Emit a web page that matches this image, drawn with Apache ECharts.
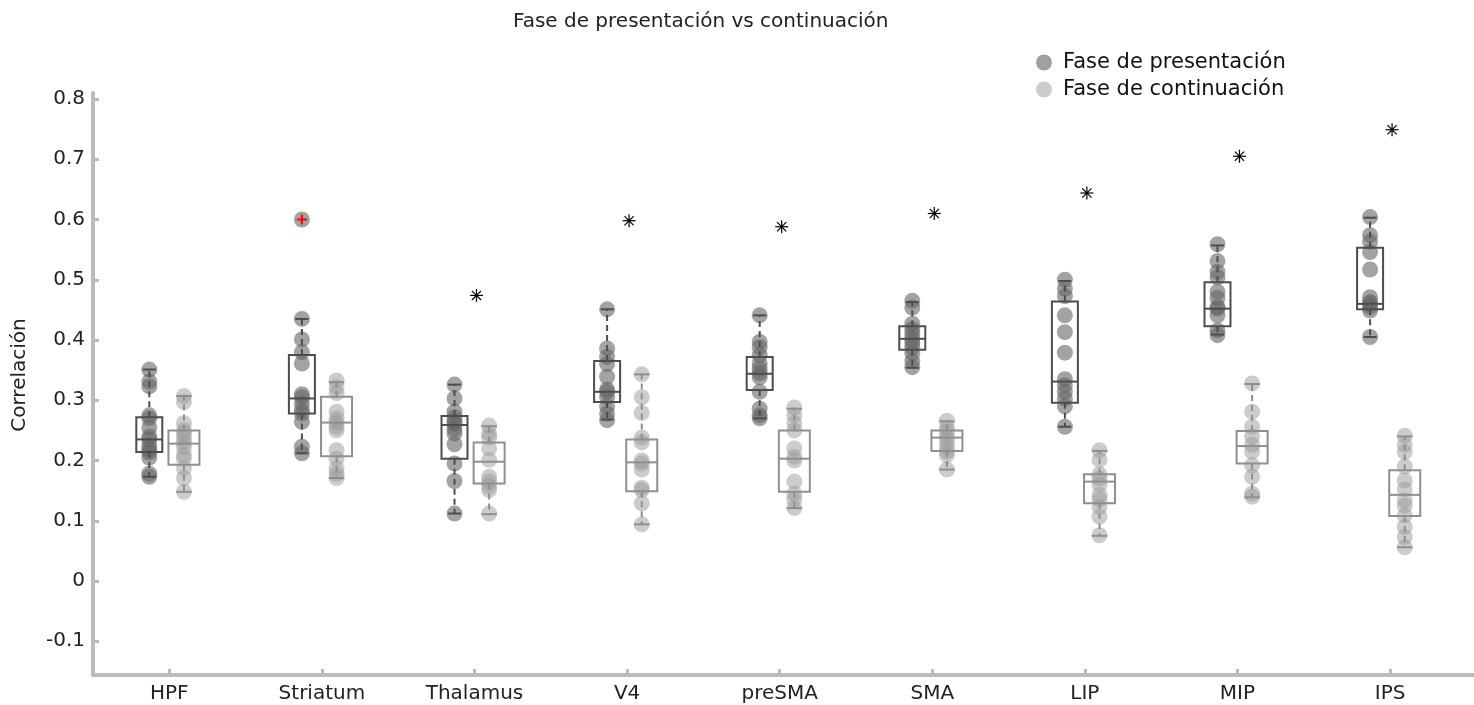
<!DOCTYPE html>
<html><head><meta charset="utf-8">
<script src="https://cdn.jsdelivr.net/npm/echarts@6/dist/echarts.min.js"></script>
<style>html,body{margin:0;padding:0;background:#fff}#c{width:1474px;height:705px}</style>
</head><body><div id="c"></div>
<script>
const categories = ['HPF','Striatum','Thalamus','V4','preSMA','SMA','LIP','MIP','IPS'];
const seriesNames = ['Fase de presentación','Fase de continuación'];
// box stats per category: [min, q1, median, q3, max]
const presBox = [
  [0.173, 0.214, 0.235, 0.272, 0.351],
  [0.212, 0.278, 0.303, 0.375, 0.435],
  [0.112, 0.203, 0.259, 0.274, 0.326],
  [0.268, 0.297, 0.314, 0.365, 0.451],
  [0.270, 0.317, 0.344, 0.372, 0.441],
  [0.354, 0.384, 0.402, 0.423, 0.463],
  [0.256, 0.296, 0.331, 0.464, 0.498],
  [0.409, 0.423, 0.452, 0.496, 0.557],
  [0.405, 0.451, 0.460, 0.553, 0.603]
];
const contBox = [
  [0.148, 0.193, 0.228, 0.250, 0.307],
  [0.171, 0.207, 0.263, 0.306, 0.330],
  [0.111, 0.162, 0.198, 0.230, 0.257],
  [0.094, 0.149, 0.197, 0.235, 0.343],
  [0.121, 0.148, 0.203, 0.250, 0.286],
  [0.185, 0.216, 0.238, 0.250, 0.265],
  [0.075, 0.129, 0.165, 0.177, 0.216],
  [0.139, 0.195, 0.224, 0.249, 0.327],
  [0.056, 0.108, 0.143, 0.184, 0.240]
];
const presPoints = [
  [0.351, 0.331, 0.323, 0.275, 0.270, 0.255, 0.240, 0.235, 0.225, 0.218, 0.213, 0.205, 0.178, 0.173],
  [0.600, 0.435, 0.401, 0.380, 0.361, 0.310, 0.305, 0.295, 0.284, 0.278, 0.264, 0.223, 0.212],
  [0.326, 0.303, 0.281, 0.272, 0.265, 0.261, 0.252, 0.245, 0.227, 0.195, 0.166, 0.112],
  [0.451, 0.386, 0.372, 0.360, 0.339, 0.318, 0.314, 0.305, 0.290, 0.278, 0.267],
  [0.441, 0.397, 0.388, 0.375, 0.361, 0.352, 0.345, 0.338, 0.314, 0.286, 0.275, 0.270],
  [0.465, 0.454, 0.427, 0.418, 0.410, 0.402, 0.395, 0.388, 0.378, 0.365, 0.355],
  [0.500, 0.485, 0.473, 0.441, 0.413, 0.379, 0.335, 0.325, 0.314, 0.303, 0.290, 0.256],
  [0.559, 0.531, 0.513, 0.504, 0.480, 0.470, 0.455, 0.452, 0.441, 0.416, 0.408],
  [0.604, 0.574, 0.563, 0.546, 0.517, 0.471, 0.463, 0.460, 0.455, 0.449, 0.405]
];
const contPoints = [
  [0.307, 0.297, 0.262, 0.250, 0.245, 0.237, 0.230, 0.222, 0.210, 0.203, 0.187, 0.171, 0.148],
  [0.333, 0.322, 0.312, 0.281, 0.270, 0.263, 0.256, 0.250, 0.217, 0.203, 0.187, 0.178, 0.171],
  [0.258, 0.245, 0.238, 0.220, 0.201, 0.173, 0.165, 0.158, 0.151, 0.112],
  [0.343, 0.305, 0.279, 0.238, 0.230, 0.200, 0.195, 0.185, 0.155, 0.151, 0.129, 0.094],
  [0.288, 0.275, 0.262, 0.250, 0.220, 0.206, 0.200, 0.165, 0.145, 0.135, 0.121],
  [0.266, 0.255, 0.248, 0.239, 0.232, 0.223, 0.215, 0.209, 0.185],
  [0.217, 0.201, 0.177, 0.170, 0.160, 0.143, 0.135, 0.123, 0.107, 0.076],
  [0.328, 0.281, 0.256, 0.240, 0.226, 0.215, 0.192, 0.173, 0.145, 0.140],
  [0.241, 0.226, 0.214, 0.190, 0.167, 0.152, 0.134, 0.125, 0.109, 0.090, 0.073, 0.056]
];
// outlier marks (category index, value)
const outliers = [[1, 0.600]];
// significance stars per category
const stars = [null, null, 0.474, 0.598, 0.588, 0.610, 0.644, 0.705, 0.749];
const yTicks = [-0.1, 0, 0.1, 0.2, 0.3, 0.4, 0.5, 0.6, 0.7, 0.8];
const xTicks = [1, 2, 3, 4, 5, 6, 7, 8, 9];

const PRES_OFF = -0.131, CONT_OFF = 0.096, STAR_OFF = 0.013;
const FONT = 'DejaVu Sans';

function boxRender(width, color) {
  return function (params, api) {
    const x = api.value(0);
    const pMin = api.coord([x, api.value(1)]);
    const pQ1 = api.coord([x, api.value(2)]);
    const pMed = api.coord([x, api.value(3)]);
    const pQ3 = api.coord([x, api.value(4)]);
    const pMax = api.coord([x, api.value(5)]);
    const cx = pMin[0], hw = width / 2, cw = width / 4;
    const ls = { stroke: color, lineWidth: 2, fill: null };
    const dash = { stroke: color, lineWidth: 2, lineDash: [6, 4], fill: null };
    return { type: 'group', children: [
      { type: 'line', shape: { x1: cx, y1: pQ3[1], x2: cx, y2: pMax[1] }, style: dash },
      { type: 'line', shape: { x1: cx, y1: pQ1[1], x2: cx, y2: pMin[1] }, style: dash },
      { type: 'line', shape: { x1: cx - cw, y1: pMax[1], x2: cx + cw, y2: pMax[1] }, style: ls },
      { type: 'line', shape: { x1: cx - cw, y1: pMin[1], x2: cx + cw, y2: pMin[1] }, style: ls },
      { type: 'rect', shape: { x: cx - hw, y: pQ3[1], width: width, height: pQ1[1] - pQ3[1] }, style: { stroke: color, lineWidth: 2, fill: 'none' } },
      { type: 'line', shape: { x1: cx - hw, y1: pMed[1], x2: cx + hw, y2: pMed[1] }, style: ls }
    ]};
  };
}

function starRender(params, api) {
  const p = api.coord([api.value(0), api.value(1)]);
  const r = 6.5, children = [];
  for (let k = 0; k < 4; k++) {
    const a = k * Math.PI / 4;
    children.push({ type: 'line', shape: { x1: p[0] - r * Math.cos(a), y1: p[1] - r * Math.sin(a), x2: p[0] + r * Math.cos(a), y2: p[1] + r * Math.sin(a) }, style: { stroke: '#000', lineWidth: 1.2 } });
  }
  children.push({ type: 'circle', shape: { cx: p[0], cy: p[1], r: 1.6 }, style: { fill: '#000' } });
  return { type: 'group', children: children };
}

function plusRender(params, api) {
  const p = api.coord([api.value(0), api.value(1)]);
  const r = 5;
  const st = { stroke: '#ff0000', lineWidth: 2 };
  return { type: 'group', children: [
    { type: 'line', shape: { x1: p[0] - r, y1: p[1], x2: p[0] + r, y2: p[1] }, style: st },
    { type: 'line', shape: { x1: p[0], y1: p[1] - r, x2: p[0], y2: p[1] + r }, style: st }
  ]};
}

const presScatter = [], contScatter = [], presBoxData = [], contBoxData = [], starData = [], outData = [];
categories.forEach((c, i) => {
  presPoints[i].forEach(v => presScatter.push([i + 1 + PRES_OFF, v]));
  contPoints[i].forEach(v => contScatter.push([i + 1 + CONT_OFF, v]));
  presBoxData.push([i + 1 + PRES_OFF].concat(presBox[i]));
  contBoxData.push([i + 1 + CONT_OFF].concat(contBox[i]));
  if (stars[i] != null) starData.push([i + 1 + STAR_OFF, stars[i]]);
});
outliers.forEach(o => outData.push([o[0] + 1 + PRES_OFF, o[1]]));

const chart = echarts.init(document.getElementById('c'), null, { renderer: 'canvas' });
chart.setOption({
  animation: false,
  backgroundColor: '#fff',
  title: {
    text: 'Fase de presentación vs continuación',
    left: 508, top: 7,
    textStyle: { fontFamily: FONT, fontSize: 20, fontWeight: 'normal', color: '#222' }
  },
  legend: {
    orient: 'vertical', left: 1031, top: 47,
    icon: 'circle', itemWidth: 16, itemHeight: 16, itemGap: 6,
    textStyle: { fontFamily: FONT, fontSize: 21, color: '#111', padding: [0, 0, 0, 6] },
    selectedMode: false,
    data: [
      { name: seriesNames[0], itemStyle: { color: '#a0a0a0', opacity: 1 } },
      { name: seriesNames[1], itemStyle: { color: '#cccccc', opacity: 1 } }
    ]
  },
  graphic: [{
    type: 'text', x: 20, y: 375, rotation: Math.PI / 2,
    style: { text: 'Correlación', fontFamily: FONT, fontSize: 20, fill: '#222', align: 'center', verticalAlign: 'middle' }
  }],
  grid: { left: 93, right: 0, top: 93, bottom: 30, containLabel: false },
  xAxis: {
    type: 'value', min: 0.5, max: 9.55,
    axisLine: { show: true, onZero: false, lineStyle: { color: '#bbbbbb', width: 4 } },
    axisTick: { show: true, inside: true, length: 6, customValues: xTicks, lineStyle: { color: '#bbbbbb', width: 3 } },
    axisLabel: { customValues: xTicks, margin: 9, fontFamily: FONT, fontSize: 20, color: '#222',
      formatter: v => categories[Math.round(v) - 1] || '' },
    splitLine: { show: false }
  },
  yAxis: {
    type: 'value', min: -0.156, max: 0.81,
    axisLine: { show: true, onZero: false, lineStyle: { color: '#bbbbbb', width: 4 } },
    axisTick: { show: true, inside: true, length: 6, customValues: yTicks, lineStyle: { color: '#bbbbbb', width: 3 } },
    axisLabel: { customValues: yTicks, margin: 8, fontFamily: FONT, fontSize: 20, color: '#222',
      formatter: v => { const r = Math.round(v * 10) / 10; return r === 0 ? '0' : String(r); } },
    splitLine: { show: false }
  },
  series: [
    { name: seriesNames[0], type: 'scatter', symbol: 'circle', symbolSize: 16, data: presScatter, silent: true, z: 2,
      itemStyle: { color: '#666666', opacity: 0.6 } },
    { name: seriesNames[1], type: 'scatter', symbol: 'circle', symbolSize: 16, data: contScatter, silent: true, z: 2,
      itemStyle: { color: '#999999', opacity: 0.5 } },
    { type: 'custom', data: presBoxData, renderItem: boxRender(26, '#4d4d4d'), silent: true, z: 3, encode: { x: 0, y: [1, 2, 3, 4, 5] } },
    { type: 'custom', data: contBoxData, renderItem: boxRender(31, '#8f8f8f'), silent: true, z: 3, encode: { x: 0, y: [1, 2, 3, 4, 5] } },
    { type: 'custom', data: starData, renderItem: starRender, silent: true, z: 4, encode: { x: 0, y: 1 } },
    { type: 'custom', data: outData, renderItem: plusRender, silent: true, z: 5, encode: { x: 0, y: 1 } }
  ]
});
</script>
</body></html>
